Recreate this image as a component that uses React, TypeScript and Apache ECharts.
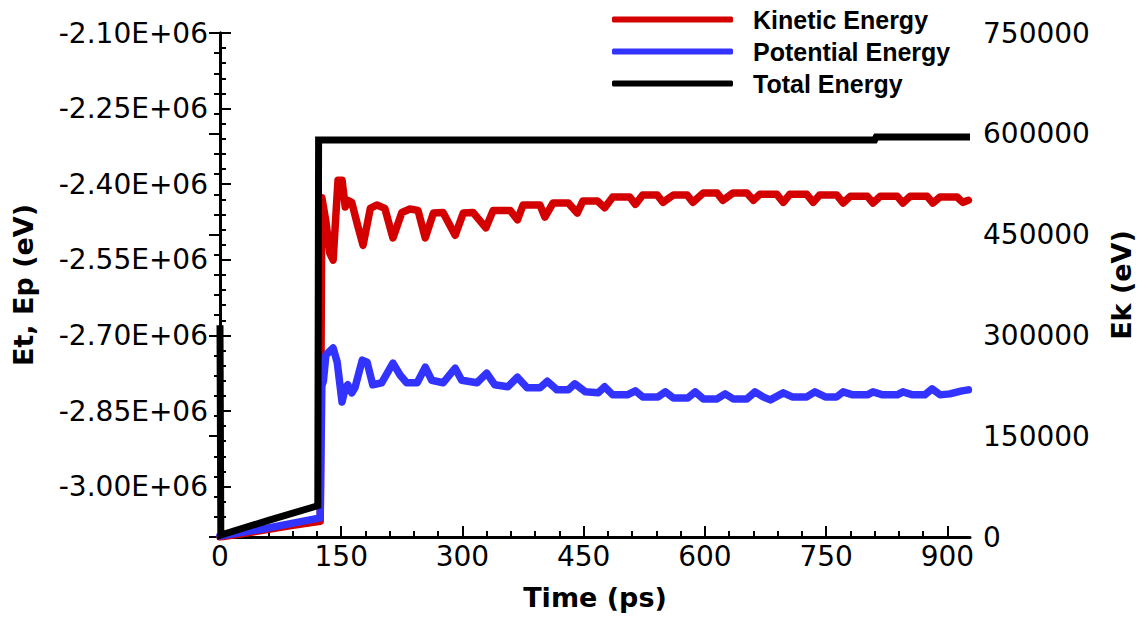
import React, { useEffect, useRef } from "react";
import * as echarts from "echarts";

// ---------- data ----------
const kineticTime = [0, 30, 60, 90, 124, 126, 131, 136, 140, 146, 151, 155, 158, 163, 170, 177, 186, 194, 204, 214, 225, 235, 245, 254, 264, 276, 291, 301, 313, 329, 338, 359, 368, 375, 396, 402, 412, 431, 442, 449, 467, 476, 486, 507, 514, 523, 541, 548, 561, 578, 585, 598, 615, 622, 635, 652, 660, 668, 689, 697, 705, 726, 734, 742, 763, 771, 780, 801, 808, 817, 838, 845, 854, 875, 882, 891, 912, 919, 926];
const kineticValues = [0, 5500, 11500, 17500, 23500, 505000, 470000, 422000, 412000, 531000, 531000, 491000, 501000, 498000, 465000, 434000, 489000, 494000, 489000, 445000, 483000, 488000, 486000, 445000, 482000, 483000, 449000, 482000, 483000, 460000, 486000, 486000, 472000, 494000, 494000, 476000, 497000, 497000, 482000, 500000, 500000, 490000, 506000, 506000, 495000, 509000, 509000, 498000, 509000, 509000, 498000, 512000, 512000, 501000, 512000, 512000, 501000, 510000, 510000, 498000, 510000, 510000, 498000, 509000, 509000, 497000, 507000, 507000, 497000, 507000, 507000, 497000, 507000, 507000, 497000, 506000, 506000, 498000, 501000];

const potentialTime = [0, 60, 124, 126, 128, 131, 140, 145, 151, 155, 158, 163, 167, 176, 182, 189, 200, 214, 223, 231, 244, 254, 262, 276, 291, 299, 318, 330, 340, 356, 368, 380, 396, 405, 417, 431, 439, 452, 468, 476, 486, 504, 514, 523, 542, 551, 561, 579, 588, 598, 615, 625, 635, 652, 662, 672, 681, 697, 708, 726, 736, 749, 763, 771, 783, 801, 808, 820, 838, 845, 857, 872, 881, 891, 903, 918, 926];
const potentialValues = [-3098000, -3082000, -3062000, -2800000, -2790000, -2739000, -2725000, -2753000, -2832000, -2804000, -2798000, -2814000, -2804000, -2749000, -2753000, -2798000, -2794000, -2755000, -2779000, -2794000, -2794000, -2763000, -2789000, -2794000, -2765000, -2789000, -2794000, -2775000, -2798000, -2802000, -2783000, -2804000, -2804000, -2791000, -2808000, -2808000, -2796000, -2812000, -2814000, -2802000, -2818000, -2818000, -2810000, -2822000, -2822000, -2812000, -2824000, -2824000, -2812000, -2826000, -2826000, -2816000, -2826000, -2826000, -2812000, -2822000, -2828000, -2814000, -2822000, -2822000, -2812000, -2822000, -2822000, -2812000, -2818000, -2818000, -2812000, -2818000, -2818000, -2812000, -2818000, -2818000, -2806000, -2818000, -2816000, -2810000, -2808000];

const totalTime = [0, 1, 60, 121, 122, 810, 812, 928];
const totalValues = [-2680000, -3096000, -3067000, -3038000, -2312300, -2312300, -2306300, -2306300];

const xMajorTicks = [0, 150, 300, 450, 600, 750, 900];
const xMinorTicks = [30, 60, 90, 120, 180, 210, 240, 270, 330, 360, 390, 420, 480, 510, 540, 570, 630, 660, 690, 720, 780, 810, 840, 870];
const leftMajorTicks = [-3000000, -2850000, -2700000, -2550000, -2400000, -2250000, -2100000];
const leftMinorTicks = [-3090000, -3060000, -3030000, -2970000, -2940000, -2910000, -2880000, -2820000, -2790000, -2760000, -2730000, -2670000, -2640000, -2610000, -2580000, -2520000, -2490000, -2460000, -2430000, -2370000, -2340000, -2310000, -2280000, -2220000, -2190000, -2160000, -2130000];

const zip = (a: number[], b: number[]) => a.map((v, i) => [v, b[i]]);

const X_MIN = 0;
const X_MAX = 928;
const L_MIN = -3100000;
const L_MAX = -2100000;

const labelFont = "DejaVu Sans";

export default function App() {
  const ref = useRef<HTMLDivElement>(null);
  useEffect(() => {
    if (!ref.current) return;
    const chart = echarts.init(ref.current, undefined, { renderer: "svg" });
    const axisLineStyle = { color: "#000", width: 3 };
    const option: any = {
      animation: false,
      backgroundColor: "#fff",
      grid: { left: 220, right: 178, top: 33, bottom: 80, containLabel: false },
      legend: {
        orient: "vertical",
        left: 612,
        top: 7,
        padding: 0,
        itemWidth: 121,
        itemHeight: 6,
        itemGap: 7,
        icon: "roundRect",
        textStyle: {
          fontFamily: "Liberation Sans",
          fontWeight: "bold",
          fontSize: 25,
          lineHeight: 24,
          color: "#000",
          padding: [0, 0, 0, 15],
        },
        data: ["Kinetic Energy", "Potential Energy", "Total Energy"],
      },
      xAxis: [
        {
          type: "value",
          min: X_MIN,
          max: X_MAX,
          position: "bottom",
          offset: 0,
          name: "Time (ps)",
          nameLocation: "middle",
          nameGap: 47,
          nameTextStyle: { fontFamily: labelFont, fontWeight: "bold", fontSize: 27, color: "#000" },
          axisLine: { show: true, lineStyle: axisLineStyle },
          axisTick: { show: true, inside: true, length: 11, lineStyle: { color: "#000", width: 2 }, customValues: xMajorTicks },
          axisLabel: { show: true, customValues: xMajorTicks, fontFamily: labelFont, fontSize: 28, color: "#000", margin: 5 },
          splitLine: { show: false },
        },
        {
          type: "value",
          min: X_MIN,
          max: X_MAX,
          position: "bottom",
          offset: 0,
          axisLine: { show: false },
          axisTick: { show: true, inside: true, length: 6, lineStyle: { color: "#000", width: 2 }, customValues: xMinorTicks },
          axisLabel: { show: false },
          splitLine: { show: false },
        },
      ],
      yAxis: [
        {
          type: "value",
          min: L_MIN,
          max: L_MAX,
          position: "left",
          offset: 0,
          name: "Et, Ep (eV)",
          nameLocation: "middle",
          nameRotate: 90,
          nameGap: 183,
          nameTextStyle: { fontFamily: labelFont, fontWeight: "bold", fontSize: 27, color: "#000" },
          axisLine: { show: true, lineStyle: axisLineStyle },
          axisTick: { show: true, inside: true, length: 11, lineStyle: { color: "#000", width: 2 }, customValues: leftMajorTicks },
          axisLabel: {
            show: true,
            customValues: leftMajorTicks,
            fontFamily: labelFont,
            fontSize: 28,
            color: "#000",
            margin: 12,
            formatter: (v: number) => (v / 1e6).toFixed(2) + "E+06",
          },
          splitLine: { show: false },
        },
        {
          type: "value",
          min: 0,
          max: 750000,
          interval: 150000,
          position: "right",
          offset: 0,
          name: "Ek (eV)",
          nameLocation: "middle",
          nameRotate: 90,
          nameGap: 138,
          nameTextStyle: { fontFamily: labelFont, fontWeight: "bold", fontSize: 27, color: "#000" },
          axisLine: { show: true, lineStyle: axisLineStyle },
          axisTick: { show: true, inside: true, length: 11, lineStyle: { color: "#000", width: 2 } },
          minorTick: { show: true, splitNumber: 5, length: 6, lineStyle: { color: "#000", width: 2 } },
          axisLabel: {
            show: true,
            fontFamily: labelFont,
            fontSize: 28,
            color: "#000",
            margin: 13,
            formatter: (v: number) => String(Math.round(v)),
          },
          splitLine: { show: false },
          minorSplitLine: { show: false },
        },
        {
          type: "value",
          min: L_MIN,
          max: L_MAX,
          position: "left",
          offset: 0,
          axisLine: { show: false },
          axisTick: { show: true, inside: true, length: 6, lineStyle: { color: "#000", width: 2 }, customValues: leftMinorTicks },
          axisLabel: { show: false },
          splitLine: { show: false },
        },
      ],
      series: [
        {
          name: "Kinetic Energy",
          type: "line",
          xAxisIndex: 0,
          yAxisIndex: 1,
          showSymbol: false,
          symbol: "none",
          data: zip(kineticTime, kineticValues),
          itemStyle: { color: "#d40000" },
          lineStyle: { color: "#d40000", width: 7.5, cap: "round", join: "round" },
        },
        {
          name: "Potential Energy",
          type: "line",
          xAxisIndex: 0,
          yAxisIndex: 0,
          showSymbol: false,
          symbol: "none",
          data: zip(potentialTime, potentialValues),
          itemStyle: { color: "#3333ff" },
          lineStyle: { color: "#3333ff", width: 7.5, cap: "round", join: "round" },
        },
        {
          name: "Total Energy",
          type: "line",
          xAxisIndex: 0,
          yAxisIndex: 0,
          showSymbol: false,
          symbol: "none",
          data: zip(totalTime, totalValues),
          itemStyle: { color: "#000000" },
          lineStyle: { color: "#000000", width: 7, cap: "butt", join: "miter" },
        },
      ],
    };
    chart.setOption(option);
    return () => chart.dispose();
  }, []);
  return (
    <div
      ref={ref}
      style={{ position: "fixed", left: 0, top: 0, width: 1148, height: 617, background: "#fff" }}
    />
  );
}
